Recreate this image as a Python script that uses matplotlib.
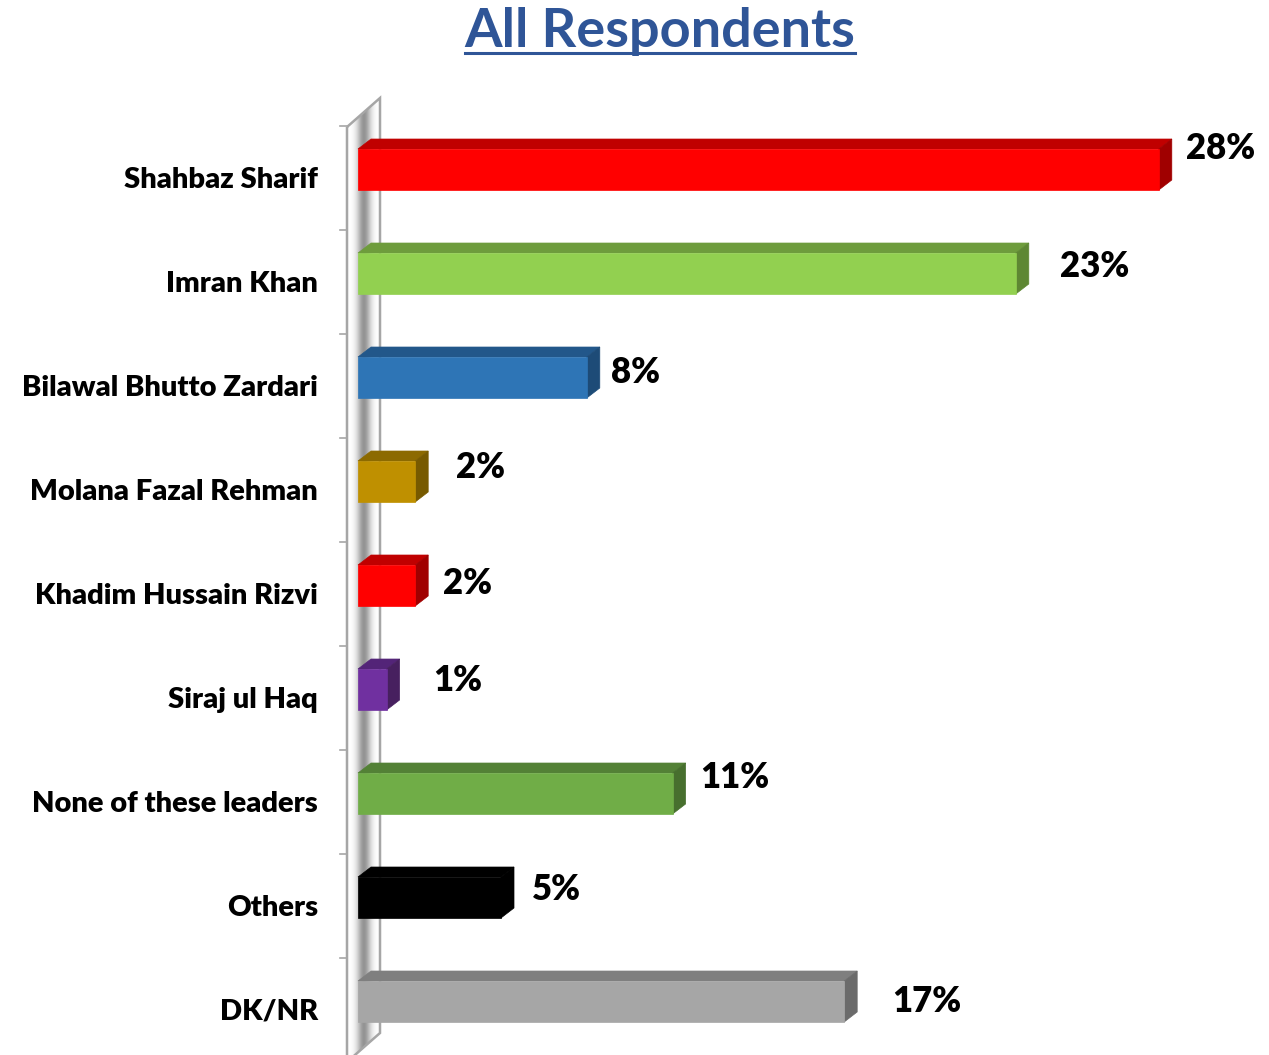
import matplotlib.pyplot as plt
import numpy as np
from matplotlib.patches import Polygon, Rectangle

# Data
categories = ['Shahbaz Sharif', 'Imran Khan', 'Bilawal Bhutto Zardari', 'Molana Fazal Rehman',
              'Khadim Hussain Rizvi', 'Siraj ul Haq', 'None of these leaders', 'Others', 'DK/NR']
values = [28, 23, 8, 2, 2, 1, 11, 5, 17]
value_labels = [f'{v}%' for v in values]

front_colors = ['#FF0000', '#92D050', '#2E75B6', '#BF9000', '#FF0000', '#7030A0', '#70AD47', '#000000', '#A6A6A6']
top_colors = ['#C00000', '#6E9C3C', '#22578A', '#8C6A00', '#C00000', '#532478', '#538136', '#000000', '#7F7F7F']
side_colors = ['#A00000', '#5E8733', '#1D4B77', '#775A00', '#A00000', '#47205F', '#476F2E', '#000000', '#6B6B6B']

# manual nudges of the value labels (px), as placed in the source slide
label_dx = [27, 44, 24, 41, 28, 47, 28, 31, 48]
label_dy = [-21, -7, -5, -14, -2, -9, -16, -8, 0]

W, H = 1269, 1055
PX = 28.6    # pixels per percent
ROW = 104    # pixels per category
X0, Y0 = 358, 169.5
FONT = 'Lato'


def px2x(p):
    return (p - X0) / PX


def px2y(p):
    return (p - Y0) / ROW


fig = plt.figure(figsize=(W / 100, H / 100), dpi=100)
ax = fig.add_axes([0, 0, 1, 1])
ax.set_xlim(px2x(0), px2x(W))
ax.set_ylim(px2y(H), px2y(0))
ax.axis('off')

# 3D wall behind the bars
wall_pts = [(px2x(347), px2y(127)), (px2x(380), px2y(98)),
            (px2x(380), px2y(1033)), (px2x(347), px2y(1062))]
wall = Polygon(wall_pts, closed=True, facecolor='none', edgecolor='none')
ax.add_patch(wall)
cols = np.linspace(347, 380, 80)
prof = 1 - 0.42 * np.exp(-((cols - 364) / 7) ** 2)
img = np.tile(prof, (10, 1))
im = ax.imshow(img, cmap='gray', vmin=0, vmax=1, aspect='auto',
               extent=[px2x(347), px2x(380), px2y(1062), px2y(98)], zorder=1)
im.set_clip_path(wall)
edge = Polygon(wall_pts, closed=True, facecolor='none', edgecolor='#A6A6A6', lw=1.8, zorder=2)
ax.add_patch(edge)

for i in range(len(categories)):
    yt = px2y(125.8) + i
    ax.plot([px2x(340), px2x(347)], [yt, yt], color='#A6A6A6', lw=1.2, zorder=2)

# 3D bars
dx = 13 / PX
dy = 10 / ROW
h = 0.197
for i, (v, fc, tc, sc) in enumerate(zip(values, front_colors, top_colors, side_colors)):
    top = [(0, i - h), (v, i - h), (v + dx, i - h - dy), (dx, i - h - dy)]
    side = [(v, i - h), (v + dx, i - h - dy), (v + dx, i + h - dy), (v, i + h)]
    ax.add_patch(Polygon(top, closed=True, facecolor=tc, edgecolor=tc, lw=0.5, zorder=3))
    ax.add_patch(Polygon(side, closed=True, facecolor=sc, edgecolor=sc, lw=0.5, zorder=3))
    ax.add_patch(Rectangle((0, i - h), v, 2 * h, facecolor=fc, edgecolor=fc, lw=0.5, zorder=4))

    ax.text(px2x(318), i + 0.1, categories[i], ha='right', va='center',
            fontsize=21, fontweight='heavy', family=FONT, color='black')
    ax.text(v + label_dx[i] / PX, i + label_dy[i] / ROW, value_labels[i], ha='left', va='center',
            fontsize=25, fontweight='heavy', family=FONT, color='black')

# title with underline
title = fig.text(660 / W, 1 - 32 / H, 'All Respondents', ha='center', va='center',
                 fontsize=39, fontweight='bold', family=FONT, color='#2F5597')
fig.canvas.draw()
bb = title.get_window_extent()
uy = H - 53
fig.add_artist(plt.Line2D([bb.x0 / W, bb.x1 / W], [uy / H, uy / H], color='#2F5597', lw=2.2))

plt.savefig('out.png', dpi=100)
